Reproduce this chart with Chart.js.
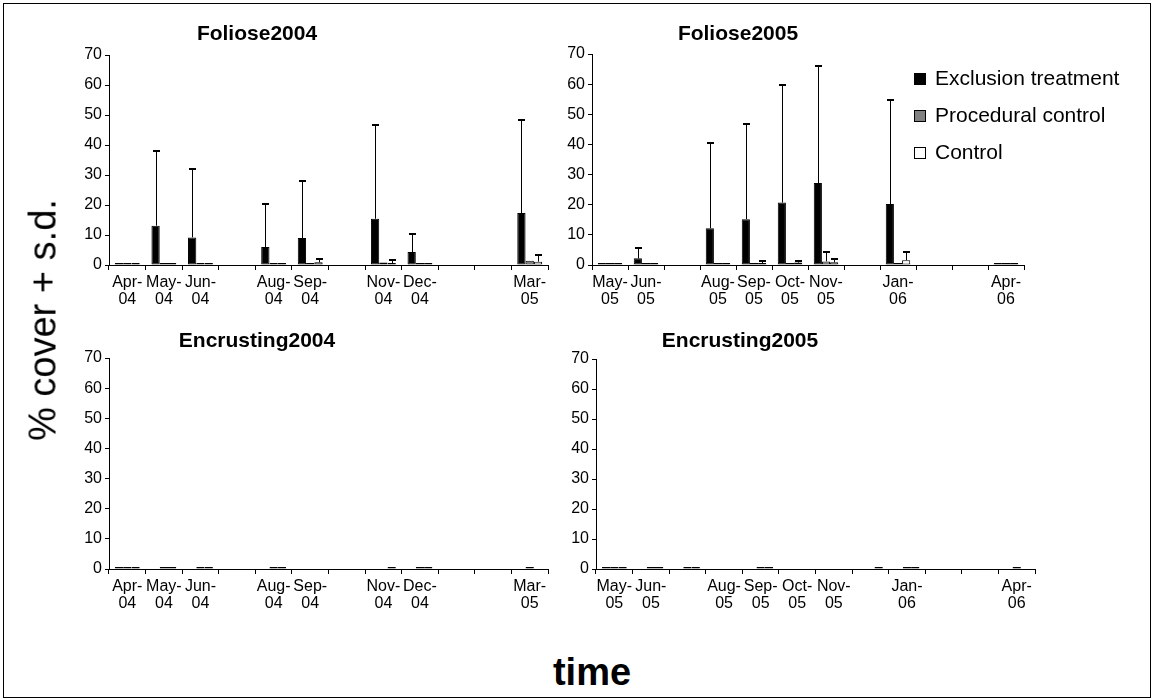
<!DOCTYPE html>
<html>
<head>
<meta charset="utf-8">
<script src="https://cdn.jsdelivr.net/npm/chart.js@4.4.1/dist/chart.umd.min.js"></script>
<style>
  html, body { margin: 0; padding: 0; background: #fff; }
  #page { position: relative; width: 1154px; height: 700px; overflow: hidden; font-family: "Liberation Sans", Arial, sans-serif; color: #000; }
  #frame { position: absolute; left: 3px; top: 3px; width: 1148px; height: 695px; border: 1px solid #000; box-sizing: border-box; }
  canvas { position: absolute; }
  .ptitle { position: absolute; font-weight: bold; font-size: 21px; transform: translate(-50%, -50%); white-space: nowrap; }
  #ytitle { position: absolute; left: 43px; top: 320px; font-size: 38px; transform: translate(-50%, -50%) rotate(-90deg); white-space: nowrap; }
  #xtitle { position: absolute; left: 592px; top: 672px; font-size: 38px; font-weight: bold; transform: translate(-50%, -50%); }
  #legend { position: absolute; left: 914px; top: 67px; font-size: 21px; }
  .item { position: relative; height: 37px; line-height: 22px; padding-left: 21px; white-space: nowrap; }
  .sw { position: absolute; left: 0; top: 6px; width: 12px; height: 12px; box-sizing: border-box; border: 1px solid #000; }
</style>
</head>
<body>
<div id="page">
  <div id="frame"></div>
  <canvas id="c1"></canvas>
  <canvas id="c2"></canvas>
  <canvas id="c3"></canvas>
  <canvas id="c4"></canvas>
  <div class="ptitle" style="left:257px; top:33px;">Foliose2004</div>
  <div class="ptitle" style="left:738px; top:33px;">Foliose2005</div>
  <div class="ptitle" style="left:257px; top:340px;">Encrusting2004</div>
  <div class="ptitle" style="left:740px; top:340px;">Encrusting2005</div>
  <div id="ytitle">% cover + s.d.</div>
  <div id="xtitle">time</div>
  <div id="legend"></div>
</div>
<script>
// Sampling months; blank entries are months without a survey label
const months2004 = ['Apr-04', 'May-04', 'Jun-04', '', 'Aug-04', 'Sep-04', '', 'Nov-04', 'Dec-04', '', '', 'Mar-05'];
const months2005 = ['May-05', 'Jun-05', '', 'Aug-05', 'Sep-05', 'Oct-05', 'Nov-05', '', 'Jan-06', '', '', 'Apr-06'];

const seriesNames = ['Exclusion treatment', 'Procedural control', 'Control'];
const seriesFill = ['#000000', '#808080', '#ffffff'];

const yTicks = [0, 10, 20, 30, 40, 50, 60, 70];

// Foliose lichens, 2004 season: mean % cover and s.d.
const fol04Excl    = [0, 13.1, 9.2, null, 6.0, 9.0, null, 15.4, 4.3, null, null, 17.3];
const fol04ExclSd  = [null, 25.2, 23.0, null, 14.6, 19.3, null, 31.7, 6.3, null, null, 31.3];
const fol04Proc    = [0, 0.2, 0.2, null, 0.5, 0.4, null, 0.8, 0.1, null, null, 1.4];
const fol04ProcSd  = [null, null, null, null, null, null, null, null, null, null, null, null];
const fol04Ctrl    = [0, 0.2, 0.1, null, 0.1, 0.9, null, 0.5, 0.1, null, null, 1.1];
const fol04CtrlSd  = [null, null, null, null, null, 1.6, null, 1.5, null, null, null, 2.5];

// Foliose lichens, 2005 season
const fol05Excl    = [0, 2.2, null, 12.2, 15.2, 20.7, 27.2, null, 20.2, null, null, 0];
const fol05ExclSd  = [null, 3.8, null, 28.6, 31.9, 39.3, 39.2, null, 34.8, null, null, null];
const fol05Proc    = [0, 0, null, 0.1, 0.1, 0.3, 1.2, null, 0.5, null, null, 0];
const fol05ProcSd  = [null, null, null, null, null, null, 3.6, null, null, null, null, null];
const fol05Ctrl    = [0, 0.3, null, 0.1, 0.5, 0.8, 0.9, null, 1.6, null, null, 0];
const fol05CtrlSd  = [null, null, null, null, 1.2, 0.9, 1.5, null, 3.1, null, null, null];

// Encrusting lichens, 2004 season
const enc04Excl    = [0, null, null, null, null, null, null, null, null, null, null, null];
const enc04Proc    = [0, 0, 0, null, 0.3, null, null, null, 0, null, null, 0.5];
const enc04Ctrl    = [0, 0, 0, null, 0.1, null, null, 0.5, 0, null, null, null];

// Encrusting lichens, 2005 season
const enc05Excl    = [0, null, null, null, null, null, null, null, null, null, null, null];
const enc05Proc    = [0, 0, 0, null, 0.3, null, null, null, 0, null, null, 0.5];
const enc05Ctrl    = [0, 0, 0, null, 0.2, null, null, 0.5, 0, null, null, null];

// Upward-only error bars (mean + s.d.) with a short cap
const errorBars = {
  id: 'errorBars',
  afterDatasetsDraw(chart) {
    const ctx = chart.ctx;
    const yScale = chart.scales.y;
    chart.data.datasets.forEach((ds, di) => {
      if (!ds.sd) return;
      const meta = chart.getDatasetMeta(di);
      ds.sd.forEach((s, i) => {
        if (s == null || ds.data[i] == null) return;
        const bar = meta.data[i];
        const x = Math.round(bar.x) + 0.5;
        const yTop = Math.round(yScale.getPixelForValue(ds.data[i] + s));
        ctx.save();
        ctx.strokeStyle = '#000';
        ctx.lineWidth = 1;
        ctx.beginPath();
        ctx.moveTo(x, bar.y);
        ctx.lineTo(x, yTop);
        ctx.stroke();
        ctx.lineWidth = 2;
        ctx.beginPath();
        ctx.moveTo(x - 3.5, yTop + 1);
        ctx.lineTo(x + 3.5, yTop + 1);
        ctx.stroke();
        ctx.restore();
      });
    });
  }
};

const FONT = '"Liberation Sans", Arial, sans-serif';
const Y_AXIS_W = 70, X_AXIS_H = 55, PAD_T = 15, PAD_R = 15;

function tickLabel(m) {
  return m ? [m.slice(0, 4), m.slice(4)] : '';
}

function panel(id, area, months, series) {
  const cv = document.getElementById(id);
  const w = area.right - area.left + Y_AXIS_W + PAD_R;
  const h = area.bottom - area.top + PAD_T + X_AXIS_H;
  cv.width = w; cv.height = h;
  cv.style.left = (area.left - Y_AXIS_W) + 'px';
  cv.style.top = (area.top - PAD_T) + 'px';
  cv.style.width = w + 'px'; cv.style.height = h + 'px';

  const datasets = series.map((s, k) => ({
    label: seriesNames[k],
    data: s.data,
    sd: s.sd || null,
    backgroundColor: seriesFill[k],
    borderColor: '#000',
    borderWidth: 1,
    borderSkipped: false,
    minBarLength: 2,
    categoryPercentage: 0.68,
    barPercentage: 1.0
  }));

  new Chart(cv, {
    type: 'bar',
    data: { labels: months.map(tickLabel), datasets },
    options: {
      responsive: false,
      animation: false,
      devicePixelRatio: 1,
      layout: { padding: { top: PAD_T, right: PAD_R, left: 0, bottom: 0 } },
      plugins: { legend: { display: false }, tooltip: { enabled: false }, title: { display: false } },
      scales: {
        x: {
          offset: true,
          grid: { offset: true, drawOnChartArea: false, drawTicks: true, tickLength: 5, color: '#000', lineWidth: 1 },
          border: { display: true, color: '#000', width: 1 },
          ticks: { autoSkip: false, maxRotation: 0, minRotation: 0, padding: 4, color: '#000',
                   font: { family: FONT, size: 16, lineHeight: 1.05 } },
          afterFit(s) { s.height = X_AXIS_H; }
        },
        y: {
          min: 0, max: 70,
          afterBuildTicks(s) { s.ticks = yTicks.map(v => ({ value: v })); },
          grid: { drawOnChartArea: false, drawTicks: true, tickLength: 4, color: '#000', lineWidth: 1 },
          border: { display: true, color: '#000', width: 1 },
          ticks: { padding: 3, color: '#000', font: { family: FONT, size: 16 } },
          afterFit(s) { s.width = Y_AXIS_W; }
        }
      }
    },
    plugins: [errorBars]
  });
}

panel('c1', { left: 109, top: 55, right: 548, bottom: 265 }, months2004, [
  { data: fol04Excl, sd: fol04ExclSd }, { data: fol04Proc, sd: fol04ProcSd }, { data: fol04Ctrl, sd: fol04CtrlSd }
]);
panel('c2', { left: 592, top: 54, right: 1024, bottom: 265 }, months2005, [
  { data: fol05Excl, sd: fol05ExclSd }, { data: fol05Proc, sd: fol05ProcSd }, { data: fol05Ctrl, sd: fol05CtrlSd }
]);
panel('c3', { left: 109, top: 358, right: 548, bottom: 569 }, months2004, [
  { data: enc04Excl }, { data: enc04Proc }, { data: enc04Ctrl }
]);
panel('c4', { left: 596, top: 359, right: 1035, bottom: 569 }, months2005, [
  { data: enc05Excl }, { data: enc05Proc }, { data: enc05Ctrl }
]);

// Legend for the three treatments
const lg = document.getElementById('legend');
seriesNames.forEach((n, k) => {
  const it = document.createElement('div');
  it.className = 'item';
  const sw = document.createElement('span');
  sw.className = 'sw';
  sw.style.background = seriesFill[k];
  it.appendChild(sw);
  it.appendChild(document.createTextNode(n));
  lg.appendChild(it);
});
</script>
</body>
</html>
